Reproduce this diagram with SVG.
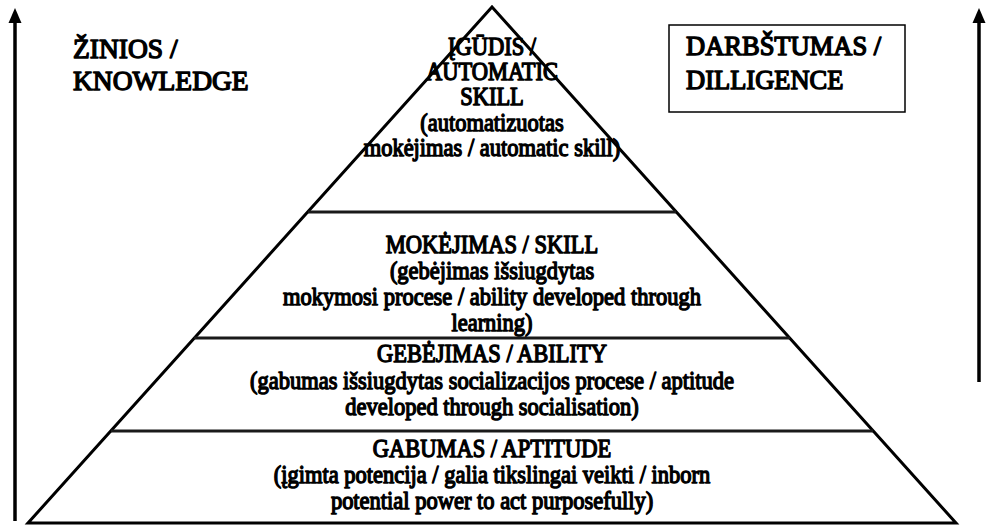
<svg xmlns="http://www.w3.org/2000/svg" width="986" height="527" viewBox="0 0 986 527">
<style>
  text{font-family:'Liberation Serif','Times New Roman',serif;font-weight:normal;fill:#000;stroke:#000;stroke-width:1.25;stroke-linejoin:round}
  .p{font-size:22.5px;text-anchor:middle}
  .side{font-size:26.5px;stroke-width:1.4}
  .edge{stroke:#000;stroke-width:3;fill:none}
  .div{stroke:#1a1a1a;stroke-width:3}
  .arr{stroke:#000;stroke-width:3.5;fill:none}
</style>
<rect width="986" height="527" fill="#fff"/>
<g id="connectors">
  <line class="arr" x1="15" y1="521" x2="15" y2="20"/>
  <polygon points="15,8 8.5,23 21.5,23" fill="#000"/>
  <line class="arr" x1="979" y1="382" x2="979" y2="20"/>
  <polygon points="979,8 972.5,23 985.5,23" fill="#000"/>
</g>
<g id="pyramid">
  <polygon class="edge" points="492,7 28,523 956,523"/>
  <line class="div" x1="308" y1="212" x2="676" y2="212"/>
  <line class="div" x1="194" y1="338" x2="790" y2="338"/>
  <line class="div" x1="111" y1="431" x2="873" y2="431"/>
</g>
<g id="igudis">
  <text class="p" transform="translate(492,55) scale(1,1.08)">ĮGŪDIS /</text>
  <text class="p" transform="translate(492,80) scale(1,1.08)">AUTOMATIC</text>
  <text class="p" transform="translate(492,105) scale(1,1.08)">SKILL</text>
  <text class="p" transform="translate(492,131) scale(1,1.08)">(automatizuotas</text>
  <text class="p" transform="translate(492,156) scale(1,1.08)">mokėjimas / automatic skill)</text>
</g>
<g id="mokejimas">
  <text class="p" transform="translate(492,253) scale(1,1.08)">MOKĖJIMAS / SKILL</text>
  <text class="p" transform="translate(492,279) scale(1,1.08)">(gebėjimas išsiugdytas</text>
  <text class="p" transform="translate(492,305) scale(1,1.08)">mokymosi procese / ability developed through</text>
  <text class="p" transform="translate(492,331) scale(1,1.08)">learning)</text>
</g>
<g id="gebejimas">
  <text class="p" transform="translate(492,362) scale(1,1.08)">GEBĖJIMAS / ABILITY</text>
  <text class="p" transform="translate(492,389) scale(1,1.08)">(gabumas išsiugdytas socializacijos procese / aptitude</text>
  <text class="p" transform="translate(492,415) scale(1,1.08)">developed through socialisation)</text>
</g>
<g id="gabumas">
  <text class="p" transform="translate(492,457) scale(1,1.08)">GABUMAS / APTITUDE</text>
  <text class="p" transform="translate(492,483) scale(1,1.08)">(įgimta potencija / galia tikslingai veikti / inborn</text>
  <text class="p" transform="translate(492,509) scale(1,1.08)">potential power to act purposefully)</text>
</g>
<g id="zinios">
  <text class="side" x="73" y="58" style="font-size:27.5px">ŽINIOS /</text>
  <text class="side" x="73" y="90" style="font-size:27.5px">KNOWLEDGE</text>
</g>
<g id="darbstumas">
  <rect x="669" y="25" width="236" height="87" fill="none" stroke="#000" stroke-width="1.5"/>
  <text class="side" x="686" y="55">DARBŠTUMAS /</text>
  <text class="side" x="686" y="89">DILLIGENCE</text>
</g>
</svg>
